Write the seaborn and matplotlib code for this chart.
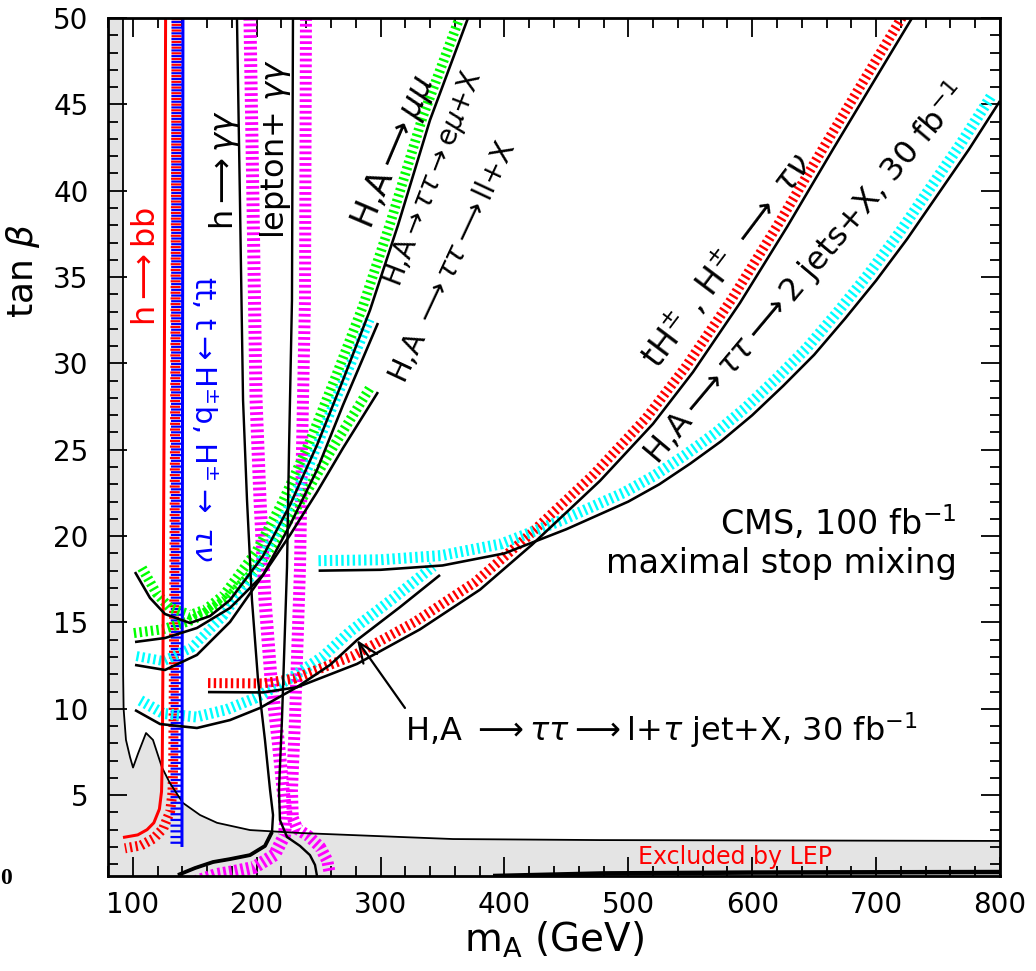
import numpy as np
import matplotlib
matplotlib.use("Agg")
import matplotlib.pyplot as plt
import seaborn as sns
from matplotlib.ticker import MultipleLocator

# ---------------- data (m_A in GeV, tan beta) ----------------
# LEP excluded region boundary
lep_m = [92.1, 92.1, 92.2, 92.6, 94.5, 97.8, 100.2, 104.2, 110.7, 116.3, 123.6, 130.0,
         140.5, 154.3, 168.0, 194.6, 235.0, 315.7, 358.5, 477.0, 800.0]
lep_tb = [50.0, 20.0, 12.0, 10.0, 8.2, 7.2, 6.6, 7.4, 8.6, 8.2, 6.6, 5.7,
          4.55, 3.85, 3.4, 2.98, 2.81, 2.58, 2.46, 2.40, 2.35]

# h -> bb
hbb_m = [126.5, 125.5, 124.5, 124.3, 123.8, 123.2, 121.5, 117.0, 111.5, 104.0, 92.1]
hbb_tb = [50.0, 30.0, 15.0, 12.0, 7.0, 5.2, 4.2, 3.4, 3.0, 2.7, 2.55]

# tt, t -> H+- b, H+- -> tau nu
hpm_m = [140.5, 140.1, 139.7]
hpm_tb = [50.0, 25.0, 2.0]

# h -> gamma gamma
hgg_m = [184.1, 186.5, 189.0, 192.2, 196.2, 201.1, 206.7, 210.8, 213.2, 212.4, 206.7,
         194.6, 178.5, 164.8, 150.2, 136.5]
hgg_tb = [50.0, 39.46, 27.88, 22.09, 16.30, 11.67, 8.19, 5.30, 3.85, 2.87, 2.06,
          1.53, 1.30, 1.13, 0.78, 0.38]

# lepton + gamma gamma
lgg_m = [229.3, 228.5, 226.1, 224.5, 220.4, 218.0, 218.8, 224.5, 235.0, 243.0, 247.1, 248.7]
lgg_tb = [50.0, 33.67, 24.99, 18.21, 9.35, 5.30, 3.56, 2.58, 2.06, 1.53, 0.96, 0.32]

# H,A -> mu mu
mumu_m = [101.8, 113.9, 126.0, 146.2, 162.3, 178.5, 205.1, 226.9, 248.7, 269.7,
          291.5, 314.1, 339.9, 370.6]
mumu_tb = [17.92, 16.42, 15.49, 14.97, 15.37, 16.30, 18.85, 21.80, 25.27, 29.04,
           33.09, 38.01, 44.09, 50.0]

# H,A -> tau tau -> e mu + X
emu_m = [101.8, 126.0, 151.8, 178.5, 205.1, 226.9, 248.7, 269.7, 297.9]
emu_tb = [12.54, 12.25, 13.12, 15.03, 17.75, 20.64, 23.83, 27.59, 32.34]

# H,A -> tau tau -> ll + X
ll_m = [101.8, 126.0, 151.8, 178.5, 205.1, 226.9, 248.7, 269.7, 297.9]
ll_tb = [13.87, 14.10, 14.68, 15.84, 17.75, 20.06, 22.55, 25.10, 28.34]

# H,A -> tau tau -> l + tau jet + X
ltj_m = [101.8, 122.0, 151.8, 178.5, 202.7, 232.6, 259.2, 281.0, 315.7, 348.0]
ltj_tb = [9.93, 9.12, 8.89, 9.35, 10.05, 11.26, 12.54, 13.98, 15.89, 17.75]

# tH+-, H+- -> tau nu
taunu_m = [160.7, 205.1, 232.6, 281.0, 331.8, 380.3, 422.2, 477.1, 519.9, 552.2,
           590.1, 628.1, 665.2, 708.8, 729.0]
taunu_tb = [10.97, 10.95, 11.25, 12.6, 14.6, 16.9, 19.5, 23.2, 26.5, 29.5,
            33.5, 37.9, 42.4, 47.6, 50.0]

# H,A -> tau tau -> 2 jets + X
jj_m = [250, 300, 350, 400, 450, 500, 525, 550, 575, 600, 625, 650, 675, 700,
        725, 750, 775, 800]
jj_tb = [18.0, 18.05, 18.3, 19.0, 20.4, 22.0, 23.0, 24.2, 25.5, 27.0, 28.7, 30.5,
         32.6, 34.8, 37.2, 39.8, 42.4, 45.2]

# low tan beta contour along the bottom
low_m = [390.8, 480.0, 600.0, 800.0]
low_tb = [0.32, 0.47, 0.52, 0.55]

x_ticks = [100, 200, 300, 400, 500, 600, 700, 800]
y_ticks = [5, 10, 15, 20, 25, 30, 35, 40, 45, 50]

# ---------------- style ----------------
DPI = 100
PX = 72.0 / DPI          # points per pixel
sns.set_theme(style="ticks")
plt.rcParams["font.family"] = ["DejaVu Sans"]
plt.rcParams["mathtext.fontset"] = "dejavusans"
plt.rcParams["lines.scale_dashes"] = False
plt.rcParams["text.color"] = "black"
plt.rcParams["axes.labelcolor"] = "black"
plt.rcParams["xtick.color"] = "black"
plt.rcParams["ytick.color"] = "black"

GREEN, CYAN, RED, MAGENTA, BLUE = "#00ff00", "#00ffff", "#ff0000", "#ff00ff", "#0000ff"

fig = plt.figure(figsize=(10.36, 9.71), dpi=DPI)
fig.patch.set_facecolor("white")
ax = fig.add_axes([108 / 1036, 1 - 876 / 971, 892 / 1036, 858 / 971])
ax.set_facecolor("white")
ax.set_xlim(80, 800)
ax.set_ylim(0.32, 50)
ax.set_autoscale_on(False)


def curve(x, y, color="black", lw_px=2.6, z=4):
    sns.lineplot(x=np.asarray(x, float), y=np.asarray(y, float), sort=False,
                 estimator=None, color=color, linewidth=lw_px * PX, ax=ax,
                 zorder=z, solid_capstyle="butt")


def hatch(x, y, color, side=1, dist=9.0, width=10.0, on=2.4, off=3.3, phase=0.0, z=3):
    """Row of short ticks running beside a contour (offset in screen pixels)."""
    pts = ax.transData.transform(np.column_stack([x, y]).astype(float))
    d = np.gradient(pts, axis=0)
    d /= np.hypot(d[:, 0], d[:, 1])[:, None]
    nrm = np.column_stack([-d[:, 1], d[:, 0]])
    shifted = ax.transData.inverted().transform(pts + side * dist * nrm)
    ax.plot(shifted[:, 0], shifted[:, 1], color=color, lw=width * PX,
            linestyle=(phase * PX, (on * PX, off * PX)),
            dash_capstyle="butt", dash_joinstyle="bevel", zorder=z)


# LEP excluded area
poly_x = [80] + lep_m + [800, 80]
poly_y = [50] + lep_tb + [0.0, 0.0]
ax.fill(poly_x, poly_y, color="#e4e4e4", zorder=0, lw=0)
curve(lep_m, lep_tb, lw_px=1.8)

# hatched sides of the contours
hatch(hbb_m, hbb_tb, RED, side=1, dist=11, width=10, on=2.2, off=3.5)
hatch(hpm_m, hpm_tb, BLUE, side=-1, dist=6, width=11, on=2.2, off=3.5, phase=2.85)
hatch(hgg_m, hgg_tb, MAGENTA, side=1, dist=13, width=13, on=2.8, off=3.0)
hatch(lgg_m, lgg_tb, MAGENTA, side=1, dist=13, width=12, on=2.8, off=3.0)
hatch(mumu_m, mumu_tb, GREEN, side=1, dist=8, width=10)
hatch(ll_m, ll_tb, GREEN, side=1, dist=9, width=10)
hatch(emu_m, emu_tb, CYAN, side=1, dist=9, width=10)
hatch(ltj_m, ltj_tb, CYAN, side=1, dist=11, width=11)
hatch(taunu_m, taunu_tb, RED, side=1, dist=9, width=10)
hatch(jj_m, jj_tb, CYAN, side=1, dist=10, width=11)

# contour lines
curve(hbb_m, hbb_tb, color=RED, lw_px=3.0)
curve(hpm_m, hpm_tb, color=BLUE, lw_px=3.0)
curve(hgg_m, hgg_tb, lw_px=2.4)
curve(hgg_m[9:], hgg_tb[9:], lw_px=3.8)
curve(lgg_m, lgg_tb, lw_px=2.4)
curve(mumu_m, mumu_tb)
curve(ll_m, ll_tb)
curve(emu_m, emu_tb)
curve(ltj_m, ltj_tb)
curve(taunu_m, taunu_tb)
curve(jj_m, jj_tb)
curve(low_m, low_tb, lw_px=4.5)

# ---------------- labels ----------------
big = 23
kw = dict(ha="center", va="center", rotation_mode="anchor", zorder=6, color="black")
ax.text(110.7, 35.6, r"h$\longrightarrow$bb", rotation=90, fontsize=big,
        **{**kw, "color": RED})
ax.text(156.7, 26.8, r"tt, t$\rightarrow$H$^{\pm}$b, H$^{\pm}$$\rightarrow$ $\tau\nu$",
        rotation=-90, fontsize=21, **{**kw, "color": BLUE})
ax.text(174.4, 41.2, r"h$\longrightarrow\gamma\gamma$", rotation=90, fontsize=big, **kw)
ax.text(214.8, 42.4, r"lepton+ $\gamma\gamma$", rotation=90, fontsize=big, **kw)
ax.text(310.8, 42.2, r"H,A$\longrightarrow\mu\mu$", rotation=67, fontsize=24, **kw)
ax.text(342.3, 40.7, r"H,A$\rightarrow\tau\tau\rightarrow$e$\mu$+X", rotation=69,
        fontsize=20, **kw)
ax.text(357.7, 35.9, r"H,A $\longrightarrow\tau\tau\longrightarrow$ll+X", rotation=65,
        fontsize=21, **kw)
ax.text(579.6, 36.0, r"tH$^{\pm}$ , H$^{\pm}$ $\longrightarrow$ $\tau\nu$", rotation=53,
        fontsize=24, **kw)
ax.text(642.6, 35.2, r"H,A$\longrightarrow\tau\tau\longrightarrow$2 jets+X, 30 fb$^{-1}$",
        rotation=50, fontsize=big, **kw)
ax.text(765, 20.8, r"CMS, 100 fb$^{-1}$", fontsize=24, ha="right", va="center",
        zorder=6, color="black")
ax.text(765, 18.4, "maximal stop mixing", fontsize=24, ha="right", va="center",
        zorder=6, color="black")
ax.text(319.7, 8.77, r"H,A $\longrightarrow\tau\tau\longrightarrow$l+$\tau$ jet+X, 30 fb$^{-1}$",
        fontsize=big, ha="left", va="center", zorder=6, color="black")
ax.annotate("", xy=(281.0, 13.98), xytext=(319.7, 10.05),
            arrowprops=dict(arrowstyle="->,head_length=1.2,head_width=0.5",
                            color="black", lw=1.6, shrinkA=0, shrinkB=0), zorder=6)
ax.text(586.0, 1.42, "Excluded by LEP", color=RED, fontsize=17, ha="center",
        va="center", zorder=6)

# ---------------- axes ----------------
ax.set_xticks(x_ticks)
ax.set_yticks(y_ticks)
ax.xaxis.set_minor_locator(MultipleLocator(20))
ax.yaxis.set_minor_locator(MultipleLocator(1))
ax.tick_params(which="both", direction="in", top=True, right=True, width=1.3,
               colors="black", labelsize=20)
ax.tick_params(which="major", length=14)
ax.tick_params(which="minor", length=7)
ax.tick_params(axis="x", pad=11)
ax.tick_params(axis="y", pad=14)
for sp in ax.spines.values():
    sp.set_linewidth(2.0)
    sp.set_color("black")
    sp.set_zorder(10)

ax.set_xlabel(r"m$_{\rm A}$ (GeV)", fontsize=28, color="black")
ax.xaxis.set_label_coords(0.5, -0.051)
ax.set_ylabel(r"tan $\beta$", fontsize=26, color="black")
ax.yaxis.set_label_coords(-0.074, 0.706)
ax.set_xlim(80, 800)
ax.set_ylim(0.32, 50)

fig.text(0.0, 1 - 878 / 971, "0", family=["Liberation Serif", "DejaVu Serif"],
         weight="bold", fontsize=17, ha="left", va="center", color="black")

fig.savefig("out.png", dpi=DPI, facecolor="white")
